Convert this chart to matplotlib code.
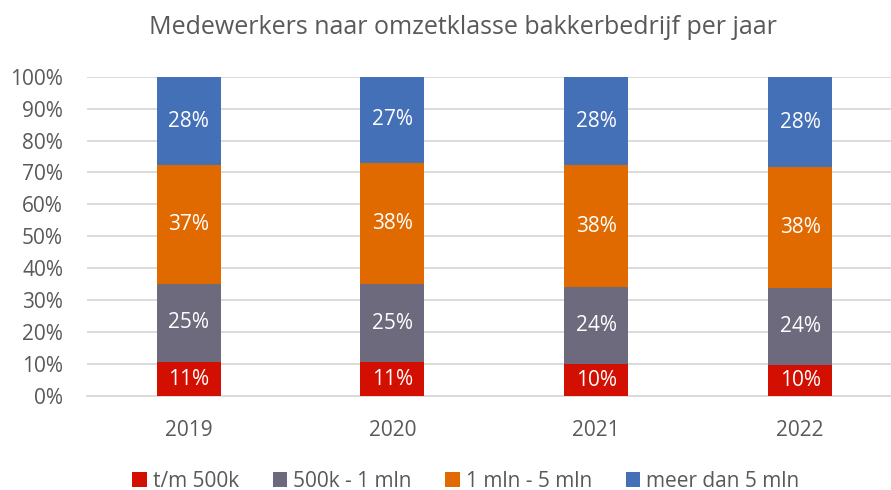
import matplotlib
matplotlib.use("Agg")
import matplotlib.pyplot as plt
import numpy as np

years = ["2019", "2020", "2021", "2022"]
series_names = ["t/m 500k", "500k - 1 mln", "1 mln - 5 mln", "meer dan 5 mln"]
tm_500k = [10.6, 10.5, 10.0, 9.7]
k500_1mln = [24.6, 24.6, 24.2, 24.1]
mln1_5 = [37.0, 37.8, 38.0, 37.8]
meer_5mln = [27.8, 27.1, 27.8, 28.4]
labels = [["11%", "11%", "10%", "10%"],
          ["25%", "25%", "24%", "24%"],
          ["37%", "38%", "38%", "38%"],
          ["28%", "27%", "28%", "28%"]]
colors = ["#D20F00", "#6C6A7C", "#E06900", "#4470B7"]

plt.rcParams['font.family'] = ['Open Sans', 'DejaVu Sans']

fig = plt.figure(figsize=(8.91, 4.90), dpi=100)
ax = fig.add_axes([86.7/891, 1-396/490, (902-86.7)/891, (396-76.7)/490])

x = np.arange(len(years))
data = [tm_500k, k500_1mln, mln1_5, meer_5mln]
bottom = np.zeros(len(years))
for vals, name, col, labs in zip(data, series_names, colors, labels):
    vals = np.array(vals)
    ax.bar(x, vals, 0.314, bottom=bottom, color=col, label=name, zorder=3)
    for xi, b, v, l in zip(x, bottom, vals, labs):
        ax.text(xi, b + v/2, l, ha='center', va='center', color='white', fontsize=15, zorder=4)
    bottom += vals

ax.set_xlim(-0.5, len(years) - 0.5)
ax.set_ylim(0, 100)
ax.set_yticks(np.arange(0, 101, 10))
ax.set_yticklabels([f"{v}%" for v in range(0, 101, 10)], fontsize=15, color='#595959')
ax.set_xticks(x)
ax.set_xticklabels(years, fontsize=15, color='#595959')
ax.tick_params(length=0)
ax.tick_params(axis='y', pad=17)
ax.tick_params(axis='x', pad=17)
ax.grid(axis='y', color='#D9D9D9', lw=1.3, zorder=0)
for s in ['top', 'right', 'left']:
    ax.spines[s].set_visible(False)
ax.spines['bottom'].set_color('#D9D9D9')
ax.spines['bottom'].set_linewidth(1.3)

fig.text(463/891, 1-28/490, "Medewerkers naar omzetklasse bakkerbedrijf per jaar",
         ha='center', va='center', fontsize=18, color='#595959')

fig.legend(loc='center', bbox_to_anchor=(466/891, 1-481/490), ncol=4, frameon=False,
           fontsize=15, handlelength=0.7, handleheight=0.7, handletextpad=0.3,
           columnspacing=1.6, labelcolor='#595959')

fig.savefig("out.png", dpi=100)
